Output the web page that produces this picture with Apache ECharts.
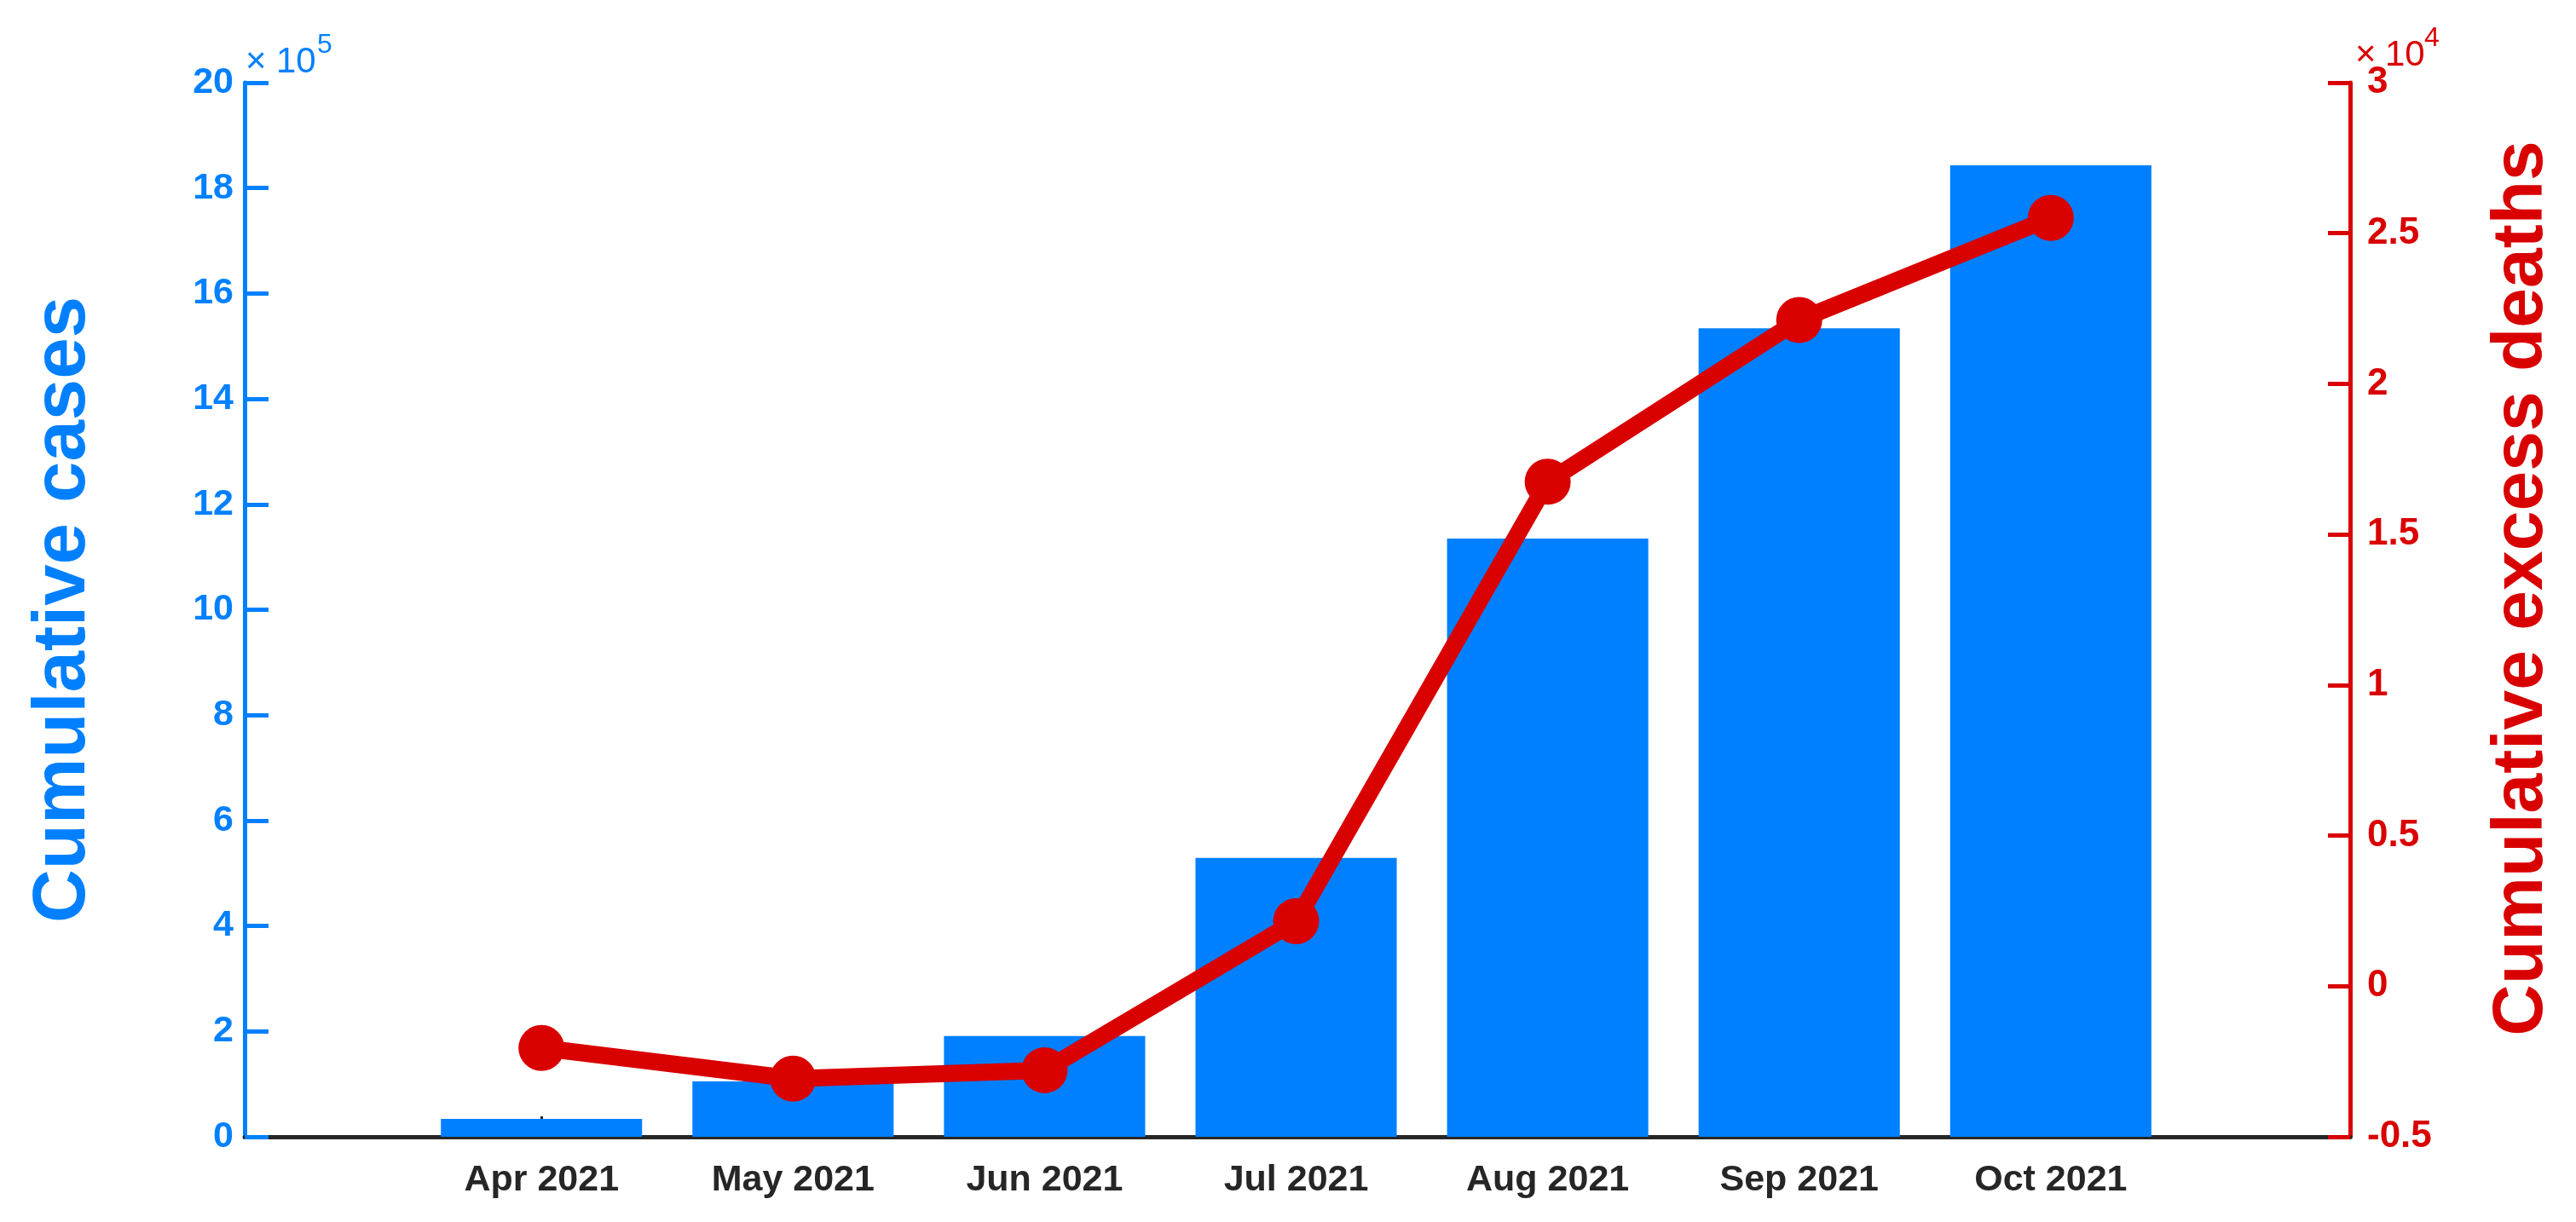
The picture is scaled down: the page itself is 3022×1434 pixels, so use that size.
<!DOCTYPE html>
<html>
<head>
<meta charset="utf-8">
<script src="https://cdn.jsdelivr.net/npm/echarts@6/dist/echarts.min.js"></script>
<style>
html,body{margin:0;padding:0;background:#fff;}
#chart{width:3022px;height:1434px;}
</style>
</head>
<body>
<div id="chart"></div>
<script>
const months = ['Apr 2021', 'May 2021', 'Jun 2021', 'Jul 2021', 'Aug 2021', 'Sep 2021', 'Oct 2021'];
const cumulativeCases = [34000, 105000, 191000, 529000, 1135000, 1534000, 1843000];
const cumulativeExcessDeaths = [-2050, -3070, -2790, 2160, 16750, 22120, 25510];
const monthPositions = [0, 1, 2, 3, 4, 5, 6];

const BLUE = '#0080FF';
const RED = '#D90000';
const DARK = '#262626';
const FONT = '"Liberation Sans", Arial, sans-serif';

const chart = echarts.init(document.getElementById('chart'), null, {renderer: 'canvas'});

const option = {
  backgroundColor: '#ffffff',
  animation: false,
  grid: {left: 287, right: 265, top: 97, bottom: 100, containLabel: false},
  xAxis: {
    type: 'value',
    min: -1.18,
    max: 7.19,
    splitLine: {show: false},
    axisLine: {show: true, onZero: false, lineStyle: {color: DARK, width: 5}},
    axisTick: {show: true, inside: true, length: 24, customValues: monthPositions, lineStyle: {color: DARK, width: 3}},
    axisLabel: {
      customValues: monthPositions,
      formatter: v => months[Math.round(v)] || '',
      color: DARK, fontFamily: FONT, fontWeight: 'bold', fontSize: 43, margin: 30
    }
  },
  yAxis: [
    {
      type: 'value', position: 'left', min: 0, max: 2000000, interval: 200000,
      name: 'Cumulative cases', nameLocation: 'middle', nameRotate: 90, nameGap: 168,
      nameTextStyle: {color: BLUE, fontFamily: FONT, fontWeight: 'bold', fontSize: 87},
      splitLine: {show: false},
      axisLine: {show: true, onZero: false, lineStyle: {color: BLUE, width: 5}},
      axisTick: {show: true, inside: true, length: 28, lineStyle: {color: BLUE, width: 5}},
      axisLabel: {formatter: v => String(Math.round(v / 1e5)), color: BLUE, fontFamily: FONT, fontWeight: 'bold', fontSize: 43, margin: 13}
    },
    {
      type: 'value', position: 'right', min: -5000, max: 30000, interval: 5000,
      name: 'Cumulative excess deaths', nameLocation: 'middle', nameRotate: 90, nameGap: 160,
      nameTextStyle: {color: RED, fontFamily: FONT, fontWeight: 'bold', fontSize: 84, padding: [0, 0, 0, 50]},
      splitLine: {show: false},
      axisLine: {show: true, onZero: false, lineStyle: {color: RED, width: 5}},
      axisTick: {show: true, inside: true, length: 26, lineStyle: {color: RED, width: 5}},
      axisLabel: {formatter: v => String(Math.round(v / 1e3) / 10), color: RED, fontFamily: FONT, fontWeight: 'bold', fontSize: 44, margin: 20}
    }
  ],
  graphic: [
    {type: 'text', left: 288, top: 52, style: {text: '×', fill: BLUE, font: '42px ' + FONT}},
    {type: 'text', left: 324, top: 52, style: {text: '10', fill: BLUE, font: '42px ' + FONT}},
    {type: 'text', left: 372, top: 37, style: {text: '5', fill: BLUE, font: '32px ' + FONT}},
    {type: 'text', left: 2763, top: 44, style: {text: '×', fill: RED, font: '42px ' + FONT}},
    {type: 'text', left: 2798, top: 44, style: {text: '10', fill: RED, font: '42px ' + FONT}},
    {type: 'text', left: 2844, top: 29, style: {text: '4', fill: RED, font: '32px ' + FONT}}
  ],
  series: [
    {
      type: 'bar',
      name: 'Cumulative cases',
      yAxisIndex: 0,
      data: monthPositions.map((p, i) => [p, cumulativeCases[i]]),
      barWidth: '80%',
      itemStyle: {color: BLUE},
      z: 2
    },
    {
      type: 'line',
      name: 'Cumulative excess deaths',
      yAxisIndex: 1,
      data: monthPositions.map((p, i) => [p, cumulativeExcessDeaths[i]]),
      symbol: 'circle',
      symbolSize: 54,
      lineStyle: {color: RED, width: 20},
      itemStyle: {color: RED},
      z: 5
    }
  ]
};
chart.setOption(option);
</script>
</body>
</html>
